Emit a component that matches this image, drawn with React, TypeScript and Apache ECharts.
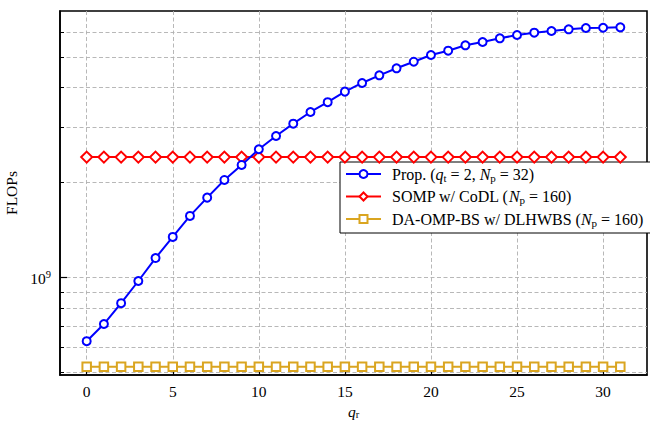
import React, { useEffect, useRef } from 'react';
import * as echarts from 'echarts';

const qr = [0, 1, 2, 3, 4, 5, 6, 7, 8, 9, 10, 11, 12, 13, 14, 15, 16, 17, 18, 19, 20, 21, 22, 23, 24, 25, 26, 27, 28, 29, 30, 31];
const propFlops = [
  6.29e8, 7.13e8, 8.3e8, 9.76e8, 1.154e9, 1.346e9, 1.569e9, 1.793e9, 2.04e9, 2.276e9,
  2.552e9, 2.812e9, 3.076e9, 3.35e9, 3.598e9, 3.886e9, 4.14e9, 4.378e9, 4.608e9, 4.835e9,
  5.077e9, 5.24e9, 5.45e9, 5.582e9, 5.735e9, 5.875e9, 5.975e9, 6.05e9, 6.124e9, 6.183e9,
  6.195e9, 6.215e9,
];
const sompFlops = [
  2.41e9, 2.41e9, 2.41e9, 2.41e9, 2.41e9, 2.41e9, 2.41e9, 2.41e9, 2.41e9, 2.41e9,
  2.41e9, 2.41e9, 2.41e9, 2.41e9, 2.41e9, 2.41e9, 2.41e9, 2.41e9, 2.41e9, 2.41e9,
  2.41e9, 2.41e9, 2.41e9, 2.41e9, 2.41e9, 2.41e9, 2.41e9, 2.41e9, 2.41e9, 2.41e9,
  2.41e9, 2.41e9,
];
const daFlops = [
  5.22e8, 5.22e8, 5.22e8, 5.22e8, 5.22e8, 5.22e8, 5.22e8, 5.22e8, 5.22e8, 5.22e8,
  5.22e8, 5.22e8, 5.22e8, 5.22e8, 5.22e8, 5.22e8, 5.22e8, 5.22e8, 5.22e8, 5.22e8,
  5.22e8, 5.22e8, 5.22e8, 5.22e8, 5.22e8, 5.22e8, 5.22e8, 5.22e8, 5.22e8, 5.22e8,
  5.22e8, 5.22e8,
];
const xTickValues = [0, 5, 10, 15, 20, 25, 30];
const yTickValues = [5e8, 6e8, 7e8, 8e8, 9e8, 1e9, 2e9, 3e9, 4e9, 5e9, 6e9];
const yMajorValues = [1e9];
const seriesNames = ['prop', 'somp', 'da'];
const legendLabels: Record<string, string> = {
  prop: 'Prop. ({i|q}{s|t} = 2, {i|N}{s|p} = 32)',
  somp: 'SOMP w/ CoDL ({i|N}{s|p} = 160)',
  da: 'DA-OMP-BS w/ DLHWBS ({i|N}{s|p} = 160)',
};

export default function App() {
  const ref = useRef<HTMLDivElement>(null);
  useEffect(() => {
    const chart = echarts.init(ref.current!, null, { renderer: 'svg' });
    const font = "'Liberation Serif', 'DejaVu Serif', serif";
    const grid = { color: '#b0b0b0', type: [4, 2.5], width: 0.9 };
    const legendRich = {
      i: { fontFamily: font, fontStyle: 'italic', fontSize: 16, color: '#000', lineHeight: 18, verticalAlign: 'middle' },
      s: { fontFamily: font, fontSize: 11, color: '#000', lineHeight: 10, verticalAlign: 'bottom' },
    };
    const nameRich = {
      i: { fontFamily: font, fontStyle: 'italic', fontSize: 15.5, color: '#000', lineHeight: 17, verticalAlign: 'middle' },
      s: { fontFamily: font, fontSize: 10.5, color: '#000', lineHeight: 9, verticalAlign: 'bottom' },
    };
    const pts = (ys: number[]) => qr.map((x, i) => [x, ys[i]]);
    const yRange = { min: 4.915e8, max: 7.0e9 };
    chart.setOption({
      animation: false,
      backgroundColor: '#fff',
      textStyle: { fontFamily: font },
      grid: {
        left: 60, right: 3, top: 11, bottom: 46, show: true, borderColor: '#000', borderWidth: 1.6,
        backgroundColor: 'transparent', containLabel: false, outerBoundsMode: 'none',
      },
      xAxis: {
        type: 'value', min: -1.55, max: 32.55,
        name: '{i|q}{s|r}', nameLocation: 'middle', nameGap: 25,
        nameTextStyle: { fontFamily: font, fontSize: 15.5, color: '#000', rich: nameRich },
        axisLine: { show: true, onZero: false, lineStyle: { color: '#000', width: 1.6 } },
        axisTick: { show: true, inside: true, length: 5, lineStyle: { color: '#000', width: 1.2 }, customValues: xTickValues },
        axisLabel: { customValues: xTickValues, color: '#000', fontSize: 15.5, fontFamily: font, margin: 8 },
        splitLine: { show: true, lineStyle: grid },
      },
      yAxis: [
        {
          type: 'log', logBase: 10, ...yRange,
          name: 'FLOPs', nameLocation: 'middle', nameGap: 34,
          nameTextStyle: { fontFamily: font, fontSize: 15.5, color: '#000' },
          axisLine: { show: true, onZero: false, lineStyle: { color: '#000', width: 1.6 } },
          axisTick: { show: true, inside: true, length: 4, lineStyle: { color: '#000', width: 1 }, customValues: yTickValues },
          axisLabel: {
            customValues: yMajorValues, color: '#000', margin: 9,
            formatter: (v: number) => `{b|10}{sup|${Math.round(Math.log10(v))}}`,
            rich: {
              b: { fontFamily: font, fontSize: 15.5, color: '#000', lineHeight: 17, verticalAlign: 'bottom' },
              sup: { fontFamily: font, fontSize: 10.5, color: '#000', lineHeight: 17, verticalAlign: 'top', padding: [0, 0, 7, 0] },
            },
          },
          splitLine: { show: true, lineStyle: grid },
        },
        {
          type: 'log', logBase: 10, ...yRange, position: 'left',
          axisLine: { show: false, onZero: false },
          axisTick: { show: true, inside: true, length: 7, lineStyle: { color: '#000', width: 1.2 }, customValues: yMajorValues },
          axisLabel: { show: false },
          splitLine: { show: false },
        },
      ],
      legend: {
        orient: 'vertical', left: 340, top: 162, padding: [3, 8, 5, 5], itemGap: 4.5,
        itemWidth: 35, itemHeight: 10,
        borderColor: '#000', borderWidth: 1, backgroundColor: '#fff', borderRadius: 0,
        textStyle: { fontFamily: font, fontSize: 16, lineHeight: 18, color: '#000', padding: [0, 0, 0, 6], rich: legendRich },
        formatter: (name: string) => legendLabels[name],
        data: seriesNames,
      },
      series: [
        {
          name: 'prop', type: 'line', data: pts(propFlops), symbol: 'emptyCircle', symbolSize: 8,
          color: '#0000ff', lineStyle: { width: 2, color: '#0000ff' }, itemStyle: { borderWidth: 2.3, borderColor: '#0000ff' }, z: 5,
        },
        {
          name: 'somp', type: 'line', data: pts(sompFlops), symbol: 'emptyDiamond', symbolSize: 11,
          color: '#ff0000', lineStyle: { width: 2, color: '#ff0000' }, itemStyle: { borderWidth: 2.3, borderColor: '#ff0000' }, z: 4,
        },
        {
          name: 'da', type: 'line', data: pts(daFlops), symbol: 'emptyRect', symbolSize: 8.5,
          color: '#daa520', lineStyle: { width: 2, color: '#daa520' }, itemStyle: { borderWidth: 2.3, borderColor: '#daa520' }, z: 3,
        },
      ],
    });
    return () => chart.dispose();
  }, []);
  return <div ref={ref} style={{ position: 'fixed', left: 0, top: 0, width: 650, height: 421, background: '#fff' }} />;
}
